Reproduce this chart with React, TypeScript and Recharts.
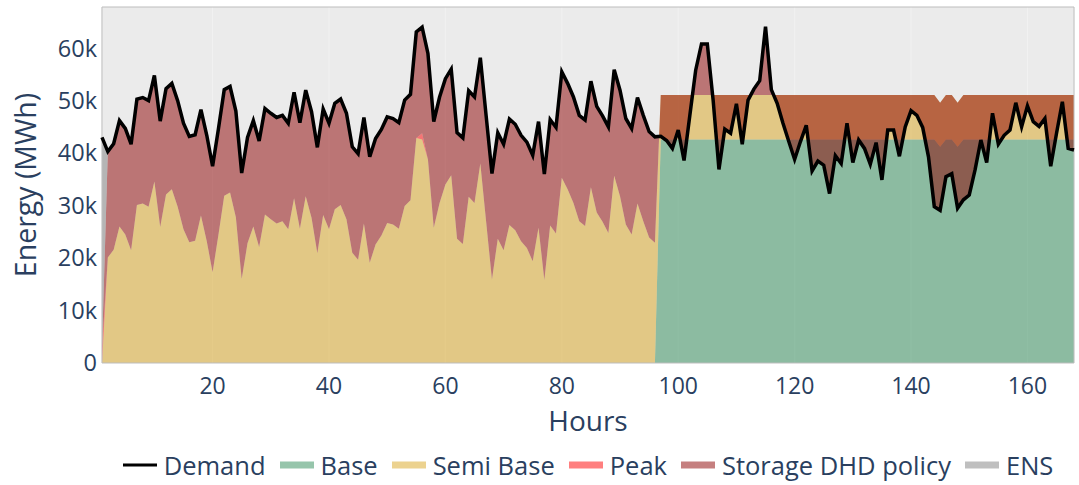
import React from 'react';
import {
  ComposedChart,
  Area,
  Line,
  XAxis,
  YAxis,
  CartesianGrid,
  Legend,
  ReferenceArea,
} from 'recharts';

// hourly dispatch, one week (MWh)
const hours = Array.from({ length: 168 }, (_, i) => i + 1);

const demand = [
  43000, 40300, 41800, 46200, 44700, 41700, 50300, 50600, 50000, 54800, 46100, 52300,
  53300, 50000, 45700, 43200, 43500, 48300, 43400, 37500, 44600, 52100, 52700, 48000,
  36200, 43000, 46200, 42300, 48500, 47600, 46800, 47200, 45700, 51600, 45800, 52000,
  47900, 41100, 48400, 45700, 49500, 50300, 47600, 41200, 39900, 46800, 39300, 42800,
  44500, 46900, 46600, 45800, 50100, 51200, 63100, 64000, 59000, 46000, 50700, 54200,
  56000, 43900, 42900, 51900, 50700, 58200, 47100, 36100, 43900, 41700, 46500, 45500,
  43400, 42100, 39600, 46000, 36000, 46400, 44900, 55500, 53300, 50700, 47200, 46300,
  53700, 48900, 47100, 45000, 55900, 52000, 46600, 44700, 50600, 47200, 44100, 43100,
  43200, 42400, 40900, 44400, 38600, 47200, 55800, 60800, 60800, 50100, 36900, 44600,
  43800, 49400, 41700, 50100, 52200, 53800, 64100, 52100, 49500, 45700, 42200, 38800,
  42200, 45300, 36600, 38500, 37700, 32300, 39500, 38000, 45700, 38200, 42500, 40900,
  37900, 42000, 34900, 44400, 44400, 39400, 45000, 48100, 47200, 44900, 39300, 29800,
  29100, 35500, 36100, 29500, 31100, 32000, 36800, 42500, 38200, 47600, 41700, 43400,
  44400, 49600, 45000, 49000, 46000, 45100, 46600, 37500, 43800, 49800, 40900, 40600,
];

const base = [
  0, 0, 0, 0, 0, 0, 0, 0, 0, 0, 0, 0,
  0, 0, 0, 0, 0, 0, 0, 0, 0, 0, 0, 0,
  0, 0, 0, 0, 0, 0, 0, 0, 0, 0, 0, 0,
  0, 0, 0, 0, 0, 0, 0, 0, 0, 0, 0, 0,
  0, 0, 0, 0, 0, 0, 0, 0, 0, 0, 0, 0,
  0, 0, 0, 0, 0, 0, 0, 0, 0, 0, 0, 0,
  0, 0, 0, 0, 0, 0, 0, 0, 0, 0, 0, 0,
  0, 0, 0, 0, 0, 0, 0, 0, 0, 0, 0, 0,
  42600, 42600, 42600, 42600, 42600, 42600, 42600, 42600, 42600, 42600, 42600, 42600,
  42600, 42600, 42600, 42600, 42600, 42600, 42600, 42600, 42600, 42600, 42600, 42600,
  42600, 42600, 42600, 42600, 42600, 42600, 42600, 42600, 42600, 42600, 42600, 42600,
  42600, 42600, 42600, 42600, 42600, 42600, 42600, 42600, 42600, 42600, 42600, 42600,
  41200, 42600, 42600, 41200, 42600, 42600, 42600, 42600, 42600, 42600, 42600, 42600,
  42600, 42600, 42600, 42600, 42600, 42600, 42600, 42600, 42600, 42600, 42600, 42600,
];

const semiBase = [
  0, 20100, 21600, 26000, 24500, 21500, 30100, 30400, 29800, 34600, 25900, 32100,
  33100, 29800, 25500, 23000, 23300, 28100, 23200, 17300, 24400, 31900, 32500, 27800,
  16000, 22800, 26000, 22100, 28300, 27400, 26600, 27000, 25500, 31400, 25600, 31800,
  27700, 20900, 28200, 25500, 29300, 30100, 27400, 21000, 19700, 26600, 19100, 22600,
  24300, 26700, 26400, 25600, 29900, 31000, 42900, 42600, 38800, 25800, 30500, 34000,
  35800, 23700, 22700, 31700, 30500, 38000, 26900, 15900, 23700, 21500, 26300, 25300,
  23200, 21900, 19400, 25800, 15800, 26200, 24700, 35300, 33100, 30500, 27000, 26100,
  33500, 28700, 26900, 24800, 35700, 31800, 26400, 24500, 30400, 27000, 23900, 22900,
  8500, 8500, 8500, 8500, 8500, 8500, 8500, 8500, 8500, 8500, 8500, 8500,
  8500, 8500, 8500, 8500, 8500, 8500, 8500, 8500, 8500, 8500, 8500, 8500,
  8500, 8500, 8500, 8500, 8500, 8500, 8500, 8500, 8500, 8500, 8500, 8500,
  8500, 8500, 8500, 8500, 8500, 8500, 8500, 8500, 8500, 8500, 8500, 8500,
  8400, 8500, 8500, 8400, 8500, 8500, 8500, 8500, 8500, 8500, 8500, 8500,
  8500, 8500, 8500, 8500, 8500, 8500, 8500, 8500, 8500, 8500, 8500, 8500,
];

const peak = [
  3000, 0, 0, 0, 0, 0, 0, 0, 0, 0, 0, 0,
  0, 0, 0, 0, 0, 0, 0, 0, 0, 0, 0, 0,
  0, 0, 0, 0, 0, 0, 0, 0, 0, 0, 0, 0,
  0, 0, 0, 0, 0, 0, 0, 0, 0, 0, 0, 0,
  0, 0, 0, 0, 0, 0, 0, 1200, 0, 0, 0, 0,
  0, 0, 0, 0, 0, 0, 0, 0, 0, 0, 0, 0,
  0, 0, 0, 0, 0, 0, 0, 0, 0, 0, 0, 0,
  0, 0, 0, 0, 0, 0, 0, 0, 0, 0, 0, 0,
  0, 0, 0, 0, 0, 0, 0, 0, 0, 0, 0, 0,
  0, 0, 0, 0, 0, 0, 0, 0, 0, 0, 0, 0,
  0, 0, 0, 0, 0, 0, 0, 0, 0, 0, 0, 0,
  0, 0, 0, 0, 0, 0, 0, 0, 0, 0, 0, 0,
  0, 0, 0, 0, 0, 0, 0, 0, 0, 0, 0, 0,
  0, 0, 0, 0, 0, 0, 0, 0, 0, 0, 0, 0,
];

// discharge (+) / charge (-)
const storage = [
  0, 20200, 20200, 20200, 20200, 20200, 20200, 20200, 20200, 20200, 20200, 20200,
  20200, 20200, 20200, 20200, 20200, 20200, 20200, 20200, 20200, 20200, 20200, 20200,
  20200, 20200, 20200, 20200, 20200, 20200, 20200, 20200, 20200, 20200, 20200, 20200,
  20200, 20200, 20200, 20200, 20200, 20200, 20200, 20200, 20200, 20200, 20200, 20200,
  20200, 20200, 20200, 20200, 20200, 20200, 20200, 20200, 20200, 20200, 20200, 20200,
  20200, 20200, 20200, 20200, 20200, 20200, 20200, 20200, 20200, 20200, 20200, 20200,
  20200, 20200, 20200, 20200, 20200, 20200, 20200, 20200, 20200, 20200, 20200, 20200,
  20200, 20200, 20200, 20200, 20200, 20200, 20200, 20200, 20200, 20200, 20200, 20200,
  -7900, -8700, -10200, -6700, -12500, -3900, 4700, 9700, 9700, -1000, -14200, -6500,
  -7300, -1700, -9400, -1000, 1100, 2700, 13000, 1000, -1600, -5400, -8900, -12300,
  -8900, -5800, -14500, -12600, -13400, -18800, -11600, -13100, -5400, -12900, -8600, -10200,
  -13200, -9100, -16200, -6700, -6700, -11700, -6100, -3000, -3900, -6200, -11800, -21300,
  -20500, -15600, -15000, -20100, -20000, -19100, -14300, -8600, -12900, -3500, -9400, -7700,
  -6700, -1500, -6100, -2100, -5100, -6000, -4500, -13600, -7300, -1300, -10200, -10500,
];

const ens = [
  40000, 0, 0, 0, 0, 0, 0, 0, 0, 0, 0, 0,
  0, 0, 0, 0, 0, 0, 0, 0, 0, 0, 0, 0,
  0, 0, 0, 0, 0, 0, 0, 0, 0, 0, 0, 0,
  0, 0, 0, 0, 0, 0, 0, 0, 0, 0, 0, 0,
  0, 0, 0, 0, 0, 0, 0, 0, 0, 0, 0, 0,
  0, 0, 0, 0, 0, 0, 0, 0, 0, 0, 0, 0,
  0, 0, 0, 0, 0, 0, 0, 0, 0, 0, 0, 0,
  0, 0, 0, 0, 0, 0, 0, 0, 0, 0, 0, 0,
  0, 0, 0, 0, 0, 0, 0, 0, 0, 0, 0, 0,
  0, 0, 0, 0, 0, 0, 0, 0, 0, 0, 0, 0,
  0, 0, 0, 0, 0, 0, 0, 0, 0, 0, 0, 0,
  0, 0, 0, 0, 0, 0, 0, 0, 0, 0, 0, 0,
  0, 0, 0, 0, 0, 0, 0, 0, 0, 0, 0, 0,
  0, 0, 0, 0, 0, 0, 0, 0, 0, 0, 0, 0,
];

const xTicks = [20, 40, 60, 80, 100, 120, 140, 160];
const yTicks = [0, 10000, 20000, 30000, 40000, 50000, 60000];

const FONT = "'Open Sans', sans-serif";
const TEXT = '#2a3f5f';

const series = [
  { key: 'base', name: 'Base', color: '#2e8b57' },
  { key: 'semiBase', name: 'Semi Base', color: '#daa520' },
  { key: 'peak', name: 'Peak', color: '#ff0000' },
  { key: 'storage', name: 'Storage DHD policy', color: '#8b0000' },
  { key: 'ens', name: 'ENS', color: '#808080' },
];

const data = hours.map((h, i) => ({
  hour: h,
  demand: demand[i],
  base: base[i],
  semiBase: semiBase[i],
  peak: peak[i],
  storage: storage[i],
  ens: ens[i],
}));

const renderLegend = () => (
  <div
    style={{
      display: 'flex',
      justifyContent: 'center',
      alignItems: 'center',
      height: 40,
      paddingLeft: 102,
      boxSizing: 'border-box',
      fontFamily: FONT,
      fontSize: 25.5,
      color: TEXT,
      whiteSpace: 'nowrap',
    }}
  >
    <div style={{ display: 'flex', alignItems: 'center' }}>
      <svg width={34} height={10}>
        <line x1={0} y1={5} x2={34} y2={5} stroke="#000" strokeWidth={3} />
      </svg>
      <span style={{ marginLeft: 7 }}>Demand</span>
    </div>
    {series.map((s) => (
      <div key={s.key} style={{ display: 'flex', alignItems: 'center', marginLeft: 14 }}>
        <svg width={34} height={10}>
          <rect x={0} y={1.5} width={34} height={7} fill={s.color} fillOpacity={0.5} />
        </svg>
        <span style={{ marginLeft: 7 }}>{s.name}</span>
      </div>
    ))}
  </div>
);

export default function App() {
  return (
    <div style={{ position: 'absolute', left: 0, top: 0, width: 1079, height: 485, background: '#fff' }}>
      <ComposedChart width={1079} height={485} data={data} margin={{ top: 7, right: 5, bottom: 0, left: 0 }}>
        <CartesianGrid fill="#ebebeb" stroke="#f1f1f1" horizontal={false} />
        <XAxis
          dataKey="hour"
          type="number"
          domain={[1, 168]}
          ticks={xTicks}
          tickLine={false}
          axisLine={false}
          tickSize={0}
          tickMargin={15}
          height={82}
          tick={{ fill: TEXT, fontSize: 23, fontFamily: FONT }}
          label={(props: any) => {
            const vb = props.viewBox || { x: 102, y: 363, width: 972 };
            return (
              <text x={vb.x + vb.width / 2} y={vb.y + 68} textAnchor="middle" fill={TEXT} fontSize={28} fontFamily={FONT}>
                Hours
              </text>
            );
          }}
        />
        <YAxis
          type="number"
          domain={[0, 67850]}
          ticks={yTicks}
          tickLine={false}
          axisLine={false}
          tickSize={0}
          tickMargin={5}
          width={102}
          tick={{ fill: TEXT, fontSize: 23.5, fontFamily: FONT }}
          tickFormatter={(v) => (v === 0 ? '0' : `${v / 1000}k`)}
          label={(props: any) => {
            const vb = props.viewBox || { x: 0, y: 7, height: 356 };
            const cx = vb.x + 25;
            const cy = vb.y + vb.height / 2;
            return (
              <text
                x={cx}
                y={cy}
                transform={`rotate(-90 ${cx} ${cy})`}
                textAnchor="middle"
                dominantBaseline="central"
                fill={TEXT}
                fontSize={28.5}
                fontFamily={FONT}
              >
                Energy (MWh)
              </text>
            );
          }}
        />
        {series.map((s) => (
          <Area
            key={s.key}
            type="linear"
            dataKey={s.key}
            name={s.name}
            stackId="dispatch"
            stroke="none"
            fill={s.color}
            fillOpacity={0.5}
            dot={false}
            activeDot={false}
            isAnimationActive={false}
          />
        ))}
        <Line
          type="linear"
          dataKey="demand"
          name="Demand"
          stroke="#000"
          strokeWidth={3.5}
          dot={false}
          activeDot={false}
          isAnimationActive={false}
        />
        <ReferenceArea x1={1} x2={168} y1={0} y2={67850} fill="none" stroke="#bdbdbd" strokeWidth={1} ifOverflow="visible" />
        <Legend verticalAlign="bottom" height={40} content={renderLegend} />
      </ComposedChart>
    </div>
  );
}
